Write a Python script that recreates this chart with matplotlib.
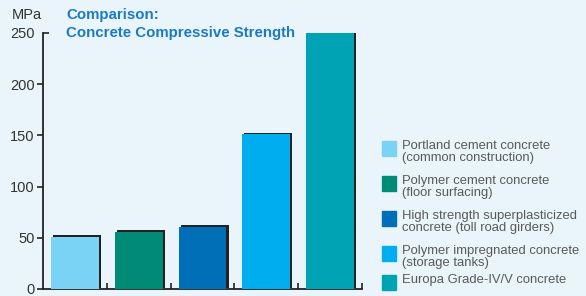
import matplotlib.pyplot as plt
import matplotlib.patheffects as pe
from matplotlib.patches import Rectangle

# data
categories = ["Portland cement concrete\n(common construction)",
              "Polymer cement concrete\n(floor surfacing)",
              "High strength superplasticized\nconcrete (toll road girders)",
              "Polymer impregnated concrete\n(storage tanks)",
              "Europa Grade-IV/V concrete"]
strength = [51, 56, 61, 151, 250]
colors = ["#7AD3F5", "#008B76", "#006FB8", "#00AEEF", "#00A3B4"]
yticks = [0, 50, 100, 150, 200, 250]

bg = "#EAF4FB"
plt.rcParams['font.family'] = ['Liberation Sans', 'DejaVu Sans']

W, H = 586, 296
fig = plt.figure(figsize=(W / 100, H / 100), dpi=100, facecolor=bg)
ax = fig.add_axes([43 / W, 7 / H, (362 - 43) / W, (289 - 33) / H])
ax.set_facecolor(bg)

xs = range(len(strength))
shadow = [pe.SimplePatchShadow(offset=(1.5, 1.0), shadow_rgbFace="#222222", alpha=1.0), pe.Normal()]
bars = ax.bar(xs, strength, width=0.75, color=colors, zorder=3)
for b in bars:
    b.set_path_effects(shadow)

ax.set_xlim(-0.5, len(strength) - 0.5)
ax.set_ylim(0, 250)
ax.set_yticks(yticks)
ax.yaxis.remove_overlapping_locs = False
ax.set_yticks([250], minor=True)
ax.set_xticks([i + 0.5 for i in xs])
ax.set_xticklabels([])
ax.tick_params(axis='x', direction='in', length=4, width=1.2, color="#222222")
ax.tick_params(axis='y', direction='out', length=4, width=1.2, color="#222222",
               labelsize=10.5, labelcolor="#333333", pad=2)
ax.tick_params(axis='y', which='minor', direction='in', length=4, width=1.2, color="#222222")
ax.yaxis.get_major_ticks()[-1].tick1line.set_visible(False)
for s in ['top', 'right']:
    ax.spines[s].set_visible(False)
for s in ['left', 'bottom']:
    ax.spines[s].set_color("#222222")
    ax.spines[s].set_linewidth(1.3)

fig.text(12 / W, 1 - 19 / H, "MPa", fontsize=10.5, color="#333333")
fig.text(66 / W, 1 - 19 / H, "Comparison:", fontsize=10.8, fontweight='bold', color="#1A7AC4")
fig.text(66 / W, 1 - 37 / H, "Concrete Compressive Strength", fontsize=10.8, fontweight='bold', color="#1A7AC4")

# legend
tops = [141, 176, 211, 246, 275]
for top, lab, c in zip(tops, categories, colors):
    fig.patches.append(Rectangle((382 / W, 1 - (top + 15) / H), 14 / W, 15 / H,
                                 transform=fig.transFigure, color=c))
    fig.text(402 / W, 1 - (top - 1) / H, lab, fontsize=9.4, color="#5A5A5A",
             va='top', linespacing=1.0)

fig.savefig("out.png", dpi=100, facecolor=bg)
